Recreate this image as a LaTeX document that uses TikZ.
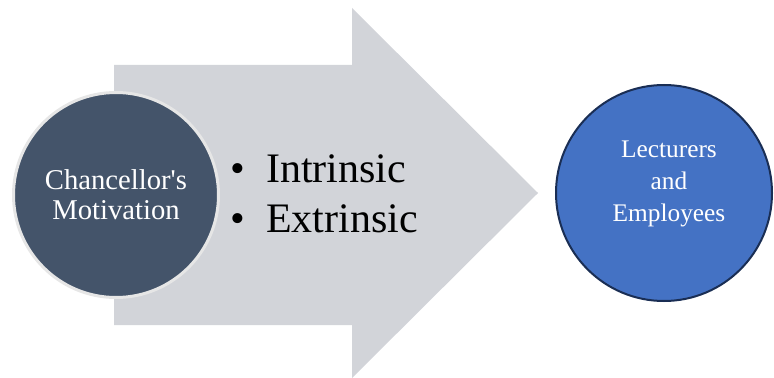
\documentclass[tikz,border=0pt]{standalone}
\usepackage{fontspec}
\setmainfont{Liberation Serif}
\usepackage{tikz}

\definecolor{arrowgray}{RGB}{210,212,217}
\definecolor{slate}{RGB}{68,84,106}
\definecolor{ringgray}{RGB}{230,230,230}
\definecolor{officeblue}{RGB}{68,114,196}
\definecolor{navy}{RGB}{26,46,84}

\tikzset{
  bigcircle/.style={circle, inner sep=0pt, text=white, align=center},
  bulletitem/.style={anchor=base west, inner sep=0pt, font=\fontsize{31.5}{37.5}\selectfont}
}

\begin{document}
\begin{tikzpicture}[x=0.75pt,y=-0.75pt]
\useasboundingbox (0,0) rectangle (774,378);

% big arrow
\fill[arrowgray] (114,65) -- (352,65) -- (352,8) -- (538,193) -- (352,378)
  -- (352,325) -- (114,325) -- cycle;

\node[bigcircle, fill=slate, draw=ringgray, line width=2.25pt, minimum size=153.75pt,
  font=\fontsize{21.5}{22.5}\selectfont] (chancellor) at (116,195)
  {Chancellor\textquotesingle s\\Motivation};

\node[bulletitem] (intrinsic) at (230,182) {\makebox[27pt][l]{\textbullet}Intrinsic};
\node[bulletitem] (extrinsic) at (230,232) {\makebox[27pt][l]{\textbullet}Extrinsic};

\node[bigcircle, fill=officeblue, draw=navy, line width=1.5pt, minimum size=162pt] (staff) at (664,193) {};
\node[text=white, align=center, font=\fontsize{19}{24}\selectfont] (stafftext) at (669,184)
  {Lecturers\\and\\Employees};

\end{tikzpicture}
\end{document}
